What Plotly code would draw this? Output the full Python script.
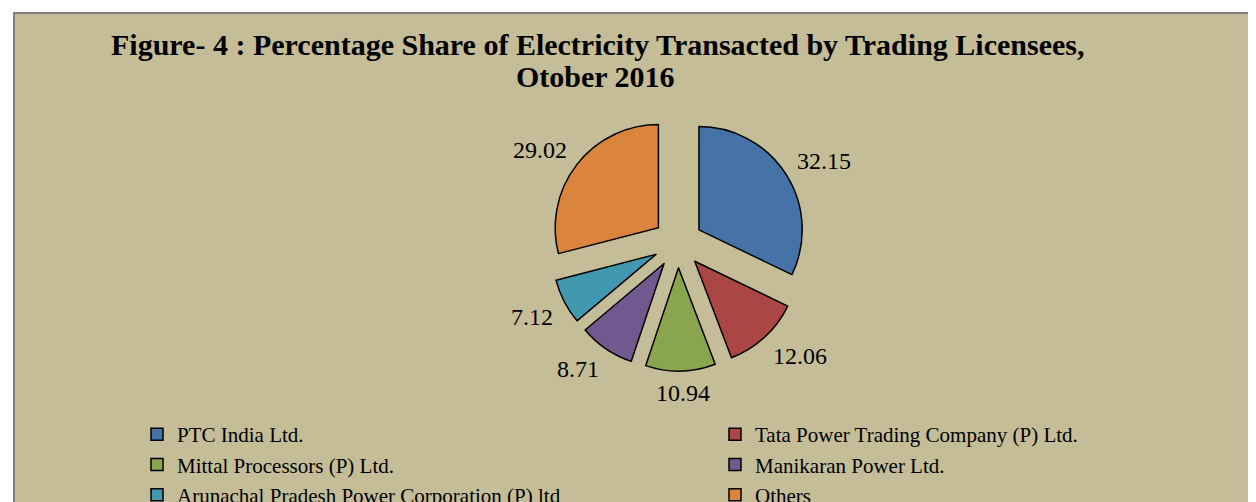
import math
import plotly.graph_objects as go

labels = ["PTC India Ltd.", "Tata Power Trading Company (P) Ltd.", "Mittal Processors (P) Ltd.",
          "Manikaran Power Ltd.", "Arunachal Pradesh Power Corporation (P) ltd", "Others"]
values = [32.15, 12.06, 10.94, 8.71, 7.12, 29.02]
colors = ["#4572A7", "#AA4643", "#89A54E", "#71588F", "#4198AF", "#DB843D"]
title_line1 = "Figure- 4 : Percentage Share of Electricity Transacted by Trading Licensees,"
title_line2 = "Otober 2016"

# figure size (page body adds an 8px margin around it)
W, H = 1248, 494
BG = "#C4BD97"
SERIF = "Liberation Serif, Times New Roman, serif"
PULL = 0.24
LABEL_SIZE = 24

# pie domain in pixels (left, right, top, bottom measured from top-left)
dom_l, dom_r, dom_t, dom_b = 542, 798, 107, 363

fig = go.Figure(go.Pie(
    labels=labels, values=values, sort=False, direction="clockwise", rotation=0,
    marker=dict(colors=colors, line=dict(color="black", width=1.5)),
    pull=[PULL] * len(values),
    textinfo="none",
    domain=dict(x=[dom_l / W, dom_r / W], y=[1 - dom_b / H, 1 - dom_t / H]),
    hoverinfo="label+value",
))

# data labels placed "outside end" of each (pulled) slice, following the pie's own geometry
cx, cy = (dom_l + dom_r) / 2, (dom_t + dom_b) / 2
r = min(dom_r - dom_l, dom_b - dom_t) / 2 / (1 + PULL)
total = sum(values)
cum = 0.0
label_annotations = []
for v in values:
    theta = math.radians((cum + v / 2) / total * 360)
    cum += v
    s, c = math.sin(theta), math.cos(theta)
    txt = f"{v:.2f}"
    ndig = sum(ch.isdigit() for ch in txt)
    halfw = 0.5 * (0.5 * LABEL_SIZE * ndig + 0.25 * LABEL_SIZE)
    halfh = 9
    fxs = max(-1.0, min(1.0, s / 0.3))
    fyc = max(-1.0, min(1.0, c / 0.3))
    pcx, pcy = cx + PULL * r * s, cy - PULL * r * c
    rr = r + 13
    lx = pcx + rr * s + halfw * fxs
    ly = pcy - rr * c - halfh * fyc + (2 if c > 0 else 0)
    label_annotations.append(dict(
        text=txt, x=lx / W, y=1 - ly / H, xref="paper", yref="paper",
        xanchor="center", yanchor="middle", showarrow=False,
        font=dict(family=SERIF, size=LABEL_SIZE, color="black")))

fig.update_layout(
    width=W, height=H,
    margin=dict(l=0, r=0, t=0, b=0, autoexpand=False),
    paper_bgcolor=BG,
    showlegend=True,
    legend=dict(orientation="h", x=0, xanchor="left", y=1 - 406 / H, yanchor="top",
                indentation=129,
                entrywidth=404, entrywidthmode="pixels", bgcolor="rgba(0,0,0,0)",
                font=dict(family=SERIF, size=21, color="black"), traceorder="normal"),
    annotations=[
        dict(text="<b>" + title_line1 + "</b>", x=589 / W, y=1 - 36 / H, xref="paper", yref="paper",
             xanchor="center", yanchor="middle", showarrow=False,
             font=dict(family=SERIF, size=30, color="black")),
        dict(text="<b>" + title_line2 + "</b>", x=587 / W, y=1 - 68.5 / H, xref="paper", yref="paper",
             xanchor="center", yanchor="middle", showarrow=False,
             font=dict(family=SERIF, size=30, color="black")),
    ] + label_annotations,
    shapes=[
        dict(type="rect", xref="paper", yref="paper", x0=0, x1=5 / W, y0=0, y1=1,
             fillcolor="white", line=dict(width=0), layer="below"),
        dict(type="rect", xref="paper", yref="paper", x0=0, x1=1, y0=1 - 4 / H, y1=1,
             fillcolor="white", line=dict(width=0), layer="below"),
        dict(type="line", xref="paper", yref="paper", x0=6 / W, x1=6 / W, y0=0, y1=1 - 4 / H,
             line=dict(color="#808080", width=2), layer="below"),
        dict(type="line", xref="paper", yref="paper", x0=5 / W, x1=1, y0=1 - 5 / H, y1=1 - 5 / H,
             line=dict(color="#808080", width=2), layer="below"),
    ],
)

fig.write_html("out.html")
